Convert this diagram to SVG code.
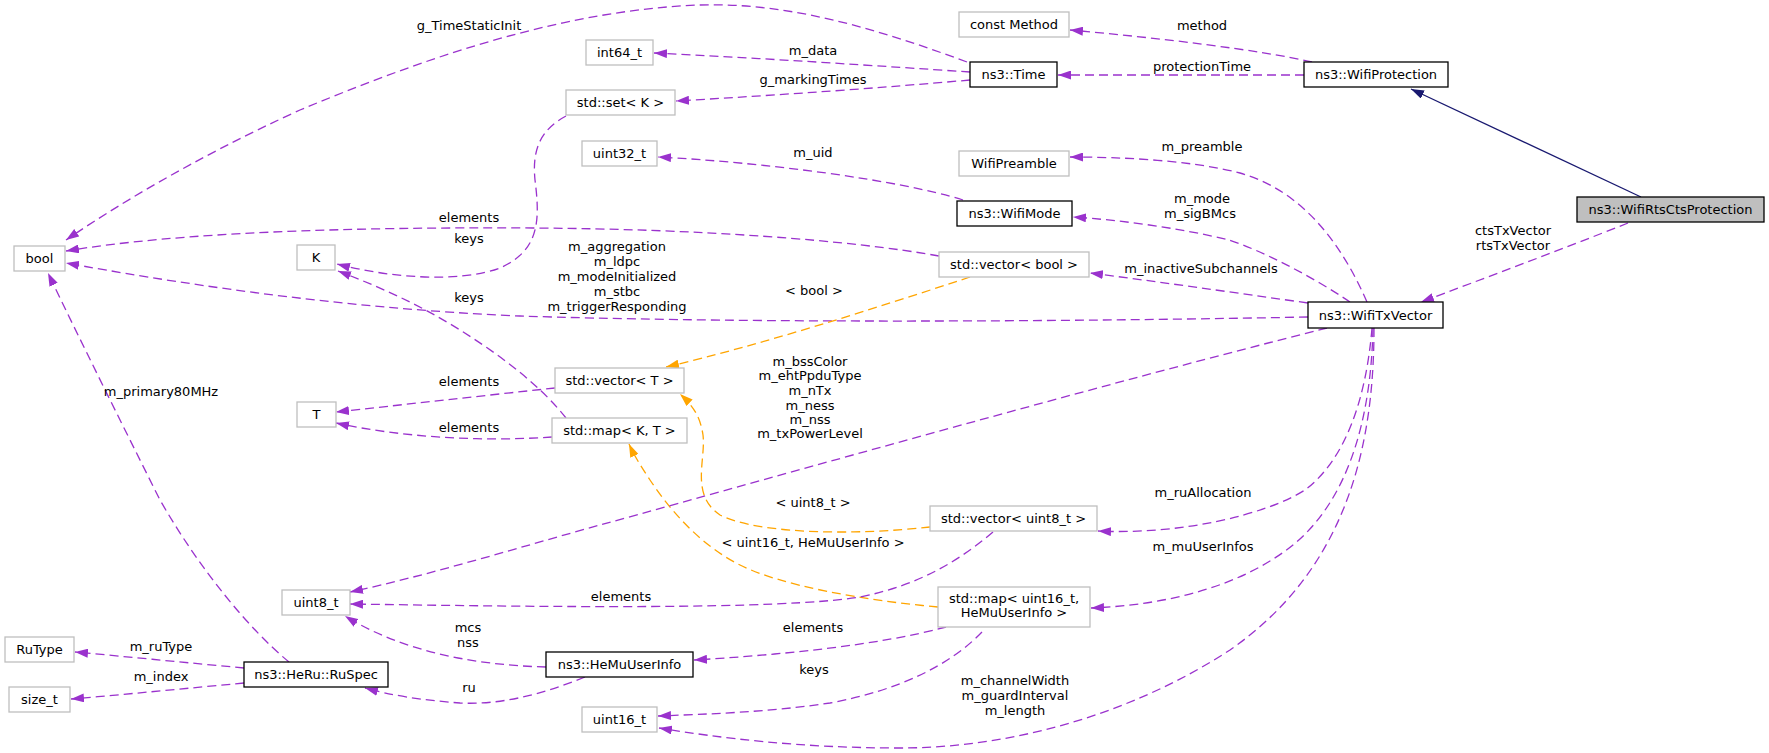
<svg xmlns="http://www.w3.org/2000/svg" width="1769" height="753" viewBox="0 0 1769 753">
<style>
text{font-family:"DejaVu Sans","Liberation Sans",sans-serif;font-size:13px;fill:#000;text-anchor:middle}
.n rect{fill:#fff;stroke:#000;stroke-width:1.3}
.g rect{fill:#fff;stroke:#bfbfbf;stroke-width:1.3}
.cur rect{fill:#bfbfbf;stroke:#000;stroke-width:1.3}
.e{fill:none;stroke:#9a32cd;stroke-width:1.3;stroke-dasharray:9,5;marker-end:url(#ap)}
.o{fill:none;stroke:#ffa500;stroke-width:1.3;stroke-dasharray:9,5;marker-end:url(#ao)}
.i{fill:none;stroke:#191970;stroke-width:1.3;marker-end:url(#ab)}
</style>
<defs>
<marker id="ap" viewBox="0 0 13 9" refX="13" refY="4.5" markerWidth="13" markerHeight="9" markerUnits="userSpaceOnUse" orient="auto"><path d="M0,0 L13,4.5 L0,9 z" fill="#9a32cd"/></marker>
<marker id="ao" viewBox="0 0 13 9" refX="13" refY="4.5" markerWidth="13" markerHeight="9" markerUnits="userSpaceOnUse" orient="auto"><path d="M0,0 L13,4.5 L0,9 z" fill="#ffa500"/></marker>
<marker id="ab" viewBox="0 0 13 9" refX="13" refY="4.5" markerWidth="13" markerHeight="9" markerUnits="userSpaceOnUse" orient="auto"><path d="M0,0 L13,4.5 L0,9 z" fill="#191970"/></marker>
</defs>
<rect width="1769" height="753" fill="#fff"/>

<g id="connectors">
<path class="e" d="M967,62 C880,30 790,2 700,5 C560,10 420,60 300,110 C190,160 110,210 66,240"/>
<text x="469" y="30">g_TimeStaticInit</text>
<path class="e" d="M970,72 C880,66 760,58 654,53"/>
<text x="813" y="55">m_data</text>
<path class="e" d="M970,80 C880,88 780,95 676,101"/>
<text x="813" y="84">g_markingTimes</text>
<path class="e" d="M1312,62 C1260,50 1160,38 1070,30"/>
<text x="1202" y="30">method</text>
<path class="e" d="M1304,75 L1058,75"/>
<text x="1202" y="71">protectionTime</text>
<path class="i" d="M1641,197 L1411,89"/>
<path class="e" d="M1628,223 C1560,250 1480,280 1421,302"/>
<text x="1513" y="235">ctsTxVector</text>
<text x="1513" y="250">rtsTxVector</text>
<path class="e" d="M963,200 C900,180 760,162 658,157"/>
<text x="813" y="157">m_uid</text>
<path class="e" d="M1367,302 C1340,240 1300,190 1240,173 C1190,160 1120,157 1070,157"/>
<text x="1202" y="151">m_preamble</text>
<path class="e" d="M1350,302 C1310,275 1260,250 1229,240 C1180,228 1120,220 1073,217"/>
<text x="1202" y="203">m_mode</text>
<text x="1200" y="218">m_sigBMcs</text>
<path class="e" d="M1308,303 C1230,292 1160,282 1090,273"/>
<text x="1201" y="273">m_inactiveSubchannels</text>
<path class="e" d="M1308,317 C1000,323 700,322 520,316 C330,308 160,280 66,263"/>
<text x="617" y="251">m_aggregation</text>
<text x="617" y="266">m_ldpc</text>
<text x="617" y="281">m_modeInitialized</text>
<text x="617" y="296">m_stbc</text>
<text x="617" y="311">m_triggerResponding</text>
<path class="e" d="M939,256 C850,240 700,229 533,228 C350,227 180,232 66,251"/>
<text x="469" y="222">elements</text>
<path class="e" d="M566,116 C540,130 532,150 535,180 C540,220 540,250 500,268 C460,283 390,278 337,264"/>
<text x="469" y="243">keys</text>
<path class="e" d="M566,418 C540,385 500,355 460,330 C420,305 380,287 338,271"/>
<text x="469" y="302">keys</text>
<path class="e" d="M555,388 C480,396 400,405 336,412"/>
<text x="469" y="386">elements</text>
<path class="e" d="M552,437 C480,442 400,437 336,423"/>
<text x="469" y="432">elements</text>
<path class="o" d="M970,277 C870,310 760,345 666,367"/>
<text x="814" y="295">&lt; bool &gt;</text>
<path class="o" d="M930,527 C860,535 760,535 720,515 C690,495 706,460 703,435 C700,415 692,405 680,394"/>
<text x="813" y="507">&lt; uint8_t &gt;</text>
<path class="o" d="M938,607 C860,600 780,585 740,565 C700,545 670,510 650,480 C640,465 634,455 629,444"/>
<text x="813" y="547">&lt; uint16_t, HeMuUserInfo &gt;</text>
<path class="e" d="M1327,328 C1100,385 800,470 600,525 C520,547 430,575 350,592"/>
<text x="810" y="366">m_bssColor</text>
<text x="810" y="380">m_ehtPpduType</text>
<text x="810" y="395">m_nTx</text>
<text x="810" y="410">m_ness</text>
<text x="810" y="424">m_nss</text>
<text x="810" y="438">m_txPowerLevel</text>
<path class="e" d="M993,532 C960,560 920,585 860,597 C780,610 550,607 350,604"/>
<text x="621" y="601">elements</text>
<path class="e" d="M546,667 C470,665 400,650 345,616"/>
<text x="468" y="632">mcs</text>
<text x="468" y="647">nss</text>
<path class="e" d="M585,677 C540,695 500,705 460,703 C420,700 390,695 365,688"/>
<text x="469" y="692">ru</text>
<path class="e" d="M289,662 C250,630 200,570 160,500 C120,420 80,340 48,273"/>
<text x="161" y="396">m_primary80MHz</text>
<path class="e" d="M244,668 C190,663 130,657 75,652"/>
<text x="161" y="651">m_ruType</text>
<path class="e" d="M244,683 C190,688 130,694 71,699"/>
<text x="161" y="681">m_index</text>
<path class="e" d="M946,627 C880,645 780,655 694,660"/>
<text x="813" y="632">elements</text>
<path class="e" d="M982,632 C950,665 900,690 830,703 C770,712 710,714 658,716"/>
<text x="814" y="674">keys</text>
<path class="e" d="M1372,328 C1366,400 1345,460 1305,490 C1265,515 1180,535 1098,531"/>
<text x="1203" y="497">m_ruAllocation</text>
<path class="e" d="M1373,328 C1371,420 1348,500 1293,545 C1243,585 1170,605 1091,608"/>
<text x="1203" y="551">m_muUserInfos</text>
<path class="e" d="M1374,328 C1374,450 1345,570 1230,650 C1130,715 1010,748 900,748 C800,748 720,738 659,728"/>
<text x="1015" y="685">m_channelWidth</text>
<text x="1015" y="700">m_guardInterval</text>
<text x="1015" y="715">m_length</text>
</g>

<g id="node-bool" class="g"><rect x="14" y="246" width="51" height="25"/><text x="39.5" y="263">bool</text></g>
<g id="node-K" class="g"><rect x="297" y="245" width="38" height="25"/><text x="316" y="262">K</text></g>
<g id="node-T" class="g"><rect x="297" y="402" width="39" height="25"/><text x="316.5" y="419">T</text></g>
<g id="node-int64_t" class="g"><rect x="586" y="40" width="67" height="25"/><text x="619.5" y="57">int64_t</text></g>
<g id="node-std-set-K" class="g"><rect x="566" y="90" width="109" height="25"/><text x="620.5" y="107">std::set&lt; K &gt;</text></g>
<g id="node-uint32_t" class="g"><rect x="582" y="141" width="75" height="25"/><text x="619.5" y="158">uint32_t</text></g>
<g id="node-const-Method" class="g"><rect x="959" y="12" width="110" height="25"/><text x="1014" y="29">const Method</text></g>
<g id="node-Time" class="n"><rect x="970" y="62" width="87" height="25"/><text x="1013.5" y="79">ns3::Time</text></g>
<g id="node-WifiProtection" class="n"><rect x="1304" y="62" width="144" height="25"/><text x="1376" y="79">ns3::WifiProtection</text></g>
<g id="node-WifiPreamble" class="g"><rect x="959" y="151" width="110" height="25"/><text x="1014" y="168">WifiPreamble</text></g>
<g id="node-WifiMode" class="n"><rect x="957" y="201" width="115" height="25"/><text x="1014.5" y="218">ns3::WifiMode</text></g>
<g id="node-WifiRtsCtsProtection" class="cur"><rect x="1577" y="197" width="187" height="25"/><text x="1670.5" y="214">ns3::WifiRtsCtsProtection</text></g>
<g id="node-std-vector-bool" class="g"><rect x="939" y="252" width="150" height="25"/><text x="1014" y="269">std::vector&lt; bool &gt;</text></g>
<g id="node-WifiTxVector" class="n"><rect x="1308" y="302" width="135" height="26"/><text x="1375.5" y="319.5">ns3::WifiTxVector</text></g>
<g id="node-std-vector-T" class="g"><rect x="555" y="368" width="129" height="25"/><text x="619.5" y="385">std::vector&lt; T &gt;</text></g>
<g id="node-std-map-K-T" class="g"><rect x="552" y="418" width="135" height="25"/><text x="619.5" y="435">std::map&lt; K, T &gt;</text></g>
<g id="node-std-vector-uint8_t" class="g"><rect x="930" y="506" width="167" height="25"/><text x="1013.5" y="523">std::vector&lt; uint8_t &gt;</text></g>
<g id="node-std-map-uint16_t-HeMuUserInfo" class="g"><rect x="938" y="587" width="152" height="40"/><text x="1014" y="603">std::map&lt; uint16_t,</text><text x="1014" y="617">HeMuUserInfo &gt;</text></g>
<g id="node-uint8_t" class="g"><rect x="282" y="590" width="68" height="25"/><text x="316" y="607">uint8_t</text></g>
<g id="node-HeMuUserInfo" class="n"><rect x="546" y="652" width="147" height="25"/><text x="619.5" y="669">ns3::HeMuUserInfo</text></g>
<g id="node-RuType" class="g"><rect x="5" y="637" width="69" height="25"/><text x="39.5" y="654">RuType</text></g>
<g id="node-size_t" class="g"><rect x="9" y="687" width="61" height="25"/><text x="39.5" y="704">size_t</text></g>
<g id="node-RuSpec" class="n"><rect x="244" y="662" width="144" height="25"/><text x="316" y="679">ns3::HeRu::RuSpec</text></g>
<g id="node-uint16_t" class="g"><rect x="582" y="707" width="75" height="25"/><text x="619.5" y="724">uint16_t</text></g>
</svg>
